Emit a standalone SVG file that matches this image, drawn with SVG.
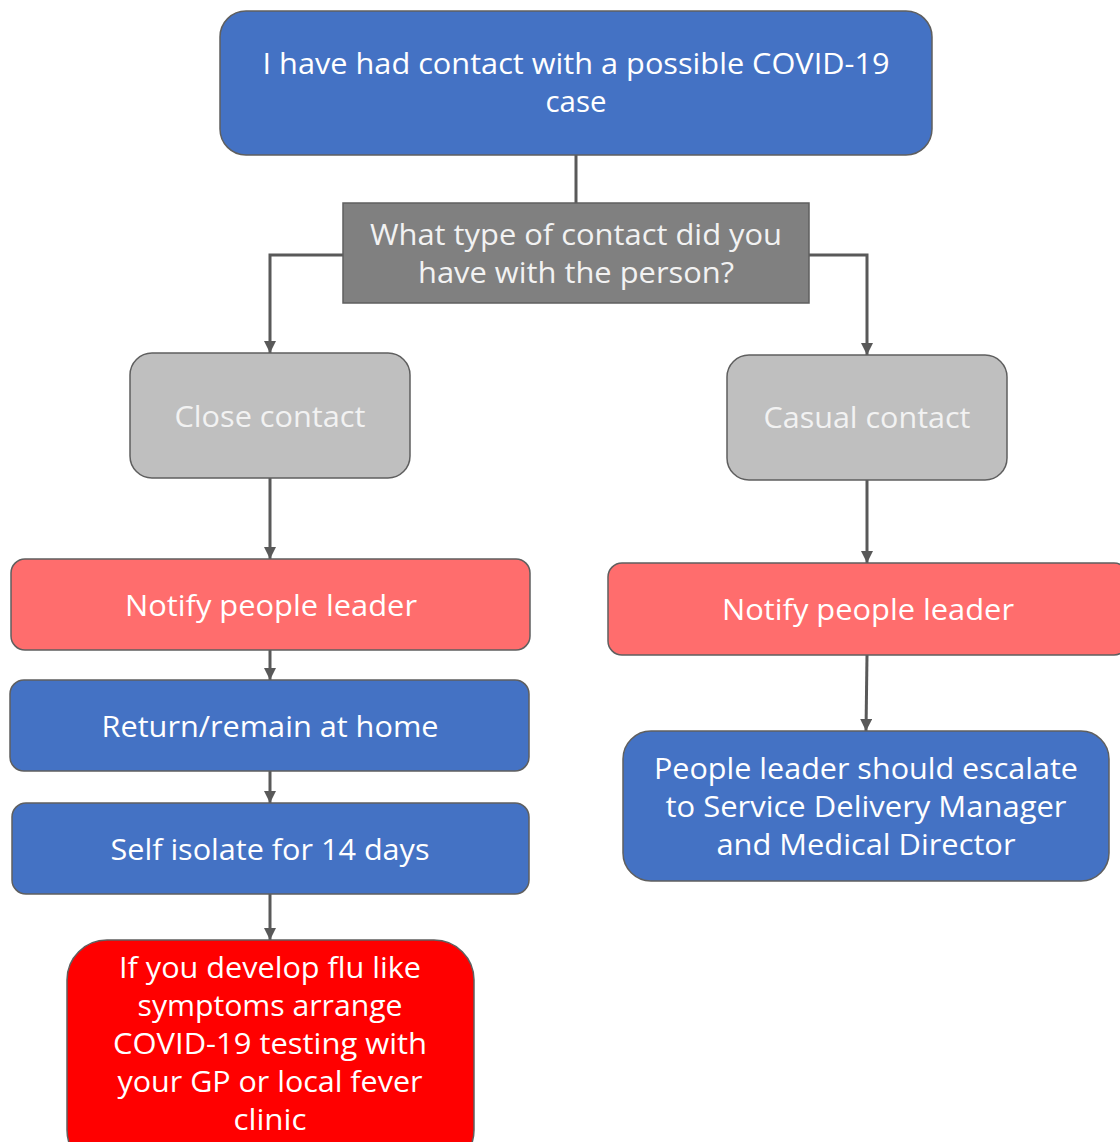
<svg xmlns="http://www.w3.org/2000/svg" width="1120" height="1142" viewBox="0 0 1120 1142">
<defs>
<style>
.box{stroke:#5f5f5f;stroke-width:1.5}
.blue{fill:#4472C4}
.dgray{fill:#808080}
.lgray{fill:#BFBFBF}
.salmon{fill:#FF6D6D}
.red{fill:#FF0000}
.t{font-family:"Open Sans","Noto Sans","DejaVu Sans",sans-serif;font-size:29px;fill:#FFFFFF;text-anchor:middle}
.tl{fill:#F2F2F2}
.c{fill:none;stroke:#595959;stroke-width:3}
</style>
<marker id="ah" markerUnits="userSpaceOnUse" markerWidth="14" markerHeight="12" refX="12" refY="6" orient="auto">
<path d="M0,0 L12,6 L0,12 Z" fill="#595959"/>
</marker>
</defs>
<rect width="1120" height="1142" fill="#FFFFFF"/>
<g id="connectors">
<path class="c" d="M576,155 V203"/>
<path class="c" d="M343,255 H270 V353" marker-end="url(#ah)"/>
<path class="c" d="M809,255 H867 V355" marker-end="url(#ah)"/>
<path class="c" d="M270,478 V559" marker-end="url(#ah)"/>
<path class="c" d="M867,480 V563" marker-end="url(#ah)"/>
<path class="c" d="M270,650 V680" marker-end="url(#ah)"/>
<path class="c" d="M867,655 L866,731" marker-end="url(#ah)"/>
<path class="c" d="M270,771 V803" marker-end="url(#ah)"/>
<path class="c" d="M270,894 V940" marker-end="url(#ah)"/>
</g>
<g id="start">
<rect class="box blue" x="220" y="11" width="712" height="144" rx="26"/>
<text class="t" x="576" y="74" textLength="627" lengthAdjust="spacingAndGlyphs">I have had contact with a possible COVID-19</text>
<text class="t" x="576" y="112" textLength="61" lengthAdjust="spacingAndGlyphs">case</text>
</g>
<g id="question">
<rect class="box dgray" x="343" y="203" width="466" height="100"/>
<text class="t tl" x="576" y="245" textLength="412" lengthAdjust="spacingAndGlyphs">What type of contact did you</text>
<text class="t tl" x="576" y="283" textLength="316" lengthAdjust="spacingAndGlyphs">have with the person?</text>
</g>
<g id="close-contact">
<rect class="box lgray" x="130" y="353" width="280" height="125" rx="22"/>
<text class="t tl" x="270" y="427" textLength="191" lengthAdjust="spacingAndGlyphs">Close contact</text>
</g>
<g id="casual-contact">
<rect class="box lgray" x="727" y="355" width="280" height="125" rx="22"/>
<text class="t tl" x="867" y="428" textLength="207" lengthAdjust="spacingAndGlyphs">Casual contact</text>
</g>
<g id="notify-left">
<rect class="box salmon" x="11" y="559" width="519" height="91" rx="14"/>
<text class="t" x="271" y="616" textLength="292" lengthAdjust="spacingAndGlyphs">Notify people leader</text>
</g>
<g id="notify-right">
<rect class="box salmon" x="608" y="563" width="520" height="92" rx="14"/>
<text class="t" x="868" y="620" textLength="292" lengthAdjust="spacingAndGlyphs">Notify people leader</text>
</g>
<g id="return-home">
<rect class="box blue" x="10" y="680" width="519" height="91" rx="14"/>
<text class="t" x="270" y="737" textLength="337" lengthAdjust="spacingAndGlyphs">Return/remain at home</text>
</g>
<g id="self-isolate">
<rect class="box blue" x="12" y="803" width="517" height="91" rx="14"/>
<text class="t" x="270" y="860" textLength="319" lengthAdjust="spacingAndGlyphs">Self isolate for 14 days</text>
</g>
<g id="escalate">
<rect class="box blue" x="623" y="731" width="486" height="150" rx="28"/>
<text class="t" x="866" y="779" textLength="424" lengthAdjust="spacingAndGlyphs">People leader should escalate</text>
<text class="t" x="866" y="817" textLength="401" lengthAdjust="spacingAndGlyphs">to Service Delivery Manager</text>
<text class="t" x="866" y="855" textLength="299" lengthAdjust="spacingAndGlyphs">and Medical Director</text>
</g>
<g id="testing">
<rect class="box red" x="67" y="940" width="407" height="230" rx="40"/>
<text class="t" x="270" y="978" textLength="302" lengthAdjust="spacingAndGlyphs">If you develop flu like</text>
<text class="t" x="270" y="1016" textLength="265" lengthAdjust="spacingAndGlyphs">symptoms arrange</text>
<text class="t" x="270" y="1054" textLength="314" lengthAdjust="spacingAndGlyphs">COVID-19 testing with</text>
<text class="t" x="270" y="1092" textLength="305" lengthAdjust="spacingAndGlyphs">your GP or local fever</text>
<text class="t" x="270" y="1130" textLength="73" lengthAdjust="spacingAndGlyphs">clinic</text>
</g>
</svg>
